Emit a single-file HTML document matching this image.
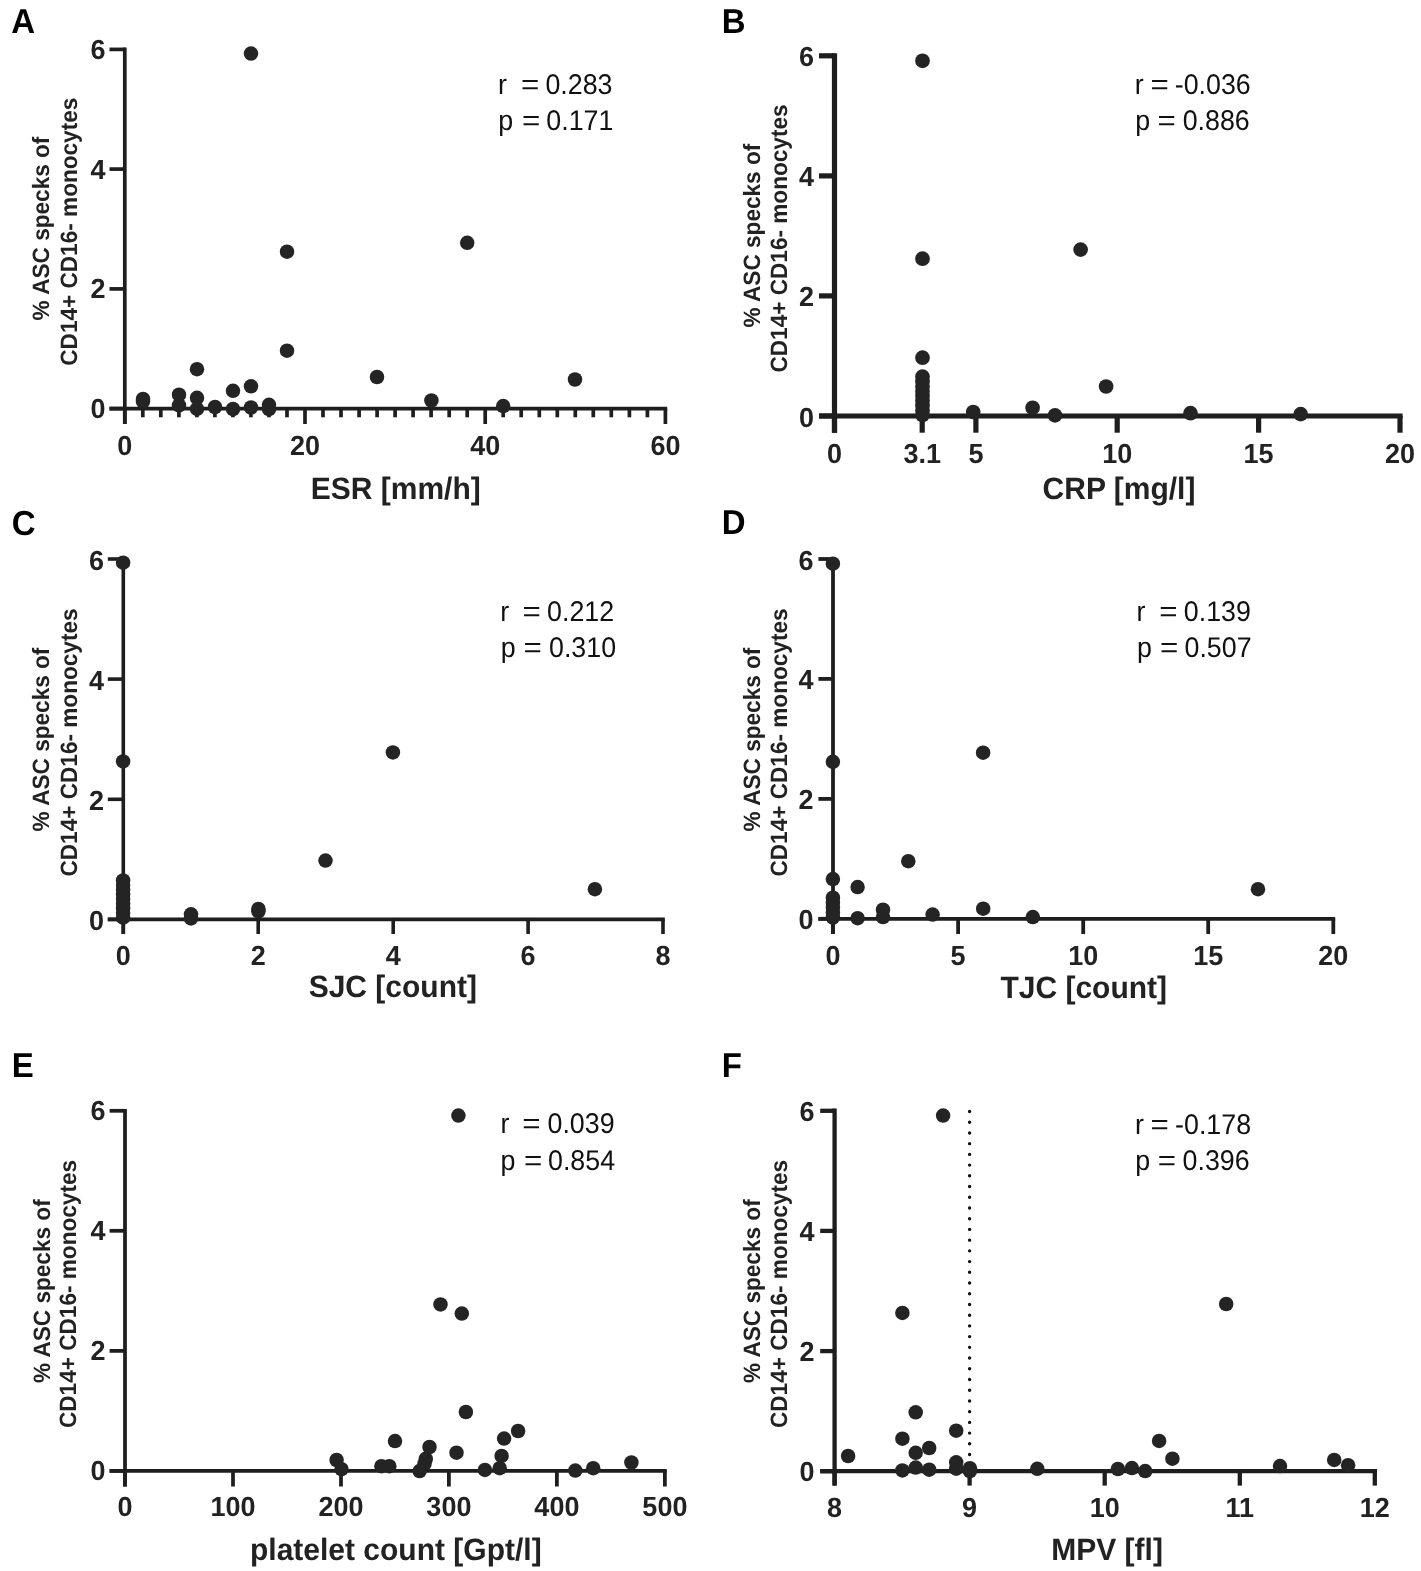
<!DOCTYPE html>
<html><head><meta charset="utf-8"><title>Figure</title>
<style>
html,body{margin:0;padding:0;background:#fff;}
body{width:1421px;height:1571px;overflow:hidden;}
svg{display:block;font-family:"Liberation Sans", sans-serif;text-rendering:geometricPrecision;filter:grayscale(1) blur(0.35px);}
</style></head>
<body>
<svg width="1421" height="1571" viewBox="0 0 1421 1571">
<rect width="1421" height="1571" fill="#fff"/>
<text transform="translate(11.2,33.2) scale(1,1.05)" font-size="33" font-weight="bold" text-anchor="start" fill="#000" >A</text>
<line x1="124.8" y1="47.5" x2="124.8" y2="424.0" stroke="#1e1e1e" stroke-width="3.7" stroke-linecap="butt" />
<line x1="109.5" y1="408.6" x2="667.2" y2="408.6" stroke="#1e1e1e" stroke-width="3.7" stroke-linecap="butt" />
<line x1="109.5" y1="408.6" x2="124.8" y2="408.6" stroke="#1e1e1e" stroke-width="3.7" stroke-linecap="butt" />
<text transform="translate(105.5,418.1) scale(1,1.025)" font-size="27" font-weight="bold" text-anchor="end" fill="#222" >0</text>
<line x1="109.5" y1="288.9" x2="124.8" y2="288.9" stroke="#1e1e1e" stroke-width="3.7" stroke-linecap="butt" />
<text transform="translate(105.5,298.4) scale(1,1.025)" font-size="27" font-weight="bold" text-anchor="end" fill="#222" >2</text>
<line x1="109.5" y1="169.1" x2="124.8" y2="169.1" stroke="#1e1e1e" stroke-width="3.7" stroke-linecap="butt" />
<text transform="translate(105.5,178.6) scale(1,1.025)" font-size="27" font-weight="bold" text-anchor="end" fill="#222" >4</text>
<line x1="109.5" y1="49.4" x2="124.8" y2="49.4" stroke="#1e1e1e" stroke-width="3.7" stroke-linecap="butt" />
<text transform="translate(105.5,58.9) scale(1,1.025)" font-size="27" font-weight="bold" text-anchor="end" fill="#222" >6</text>
<line x1="124.8" y1="408.6" x2="124.8" y2="424.0" stroke="#1e1e1e" stroke-width="3.7" stroke-linecap="butt" />
<line x1="305.0" y1="408.6" x2="305.0" y2="424.0" stroke="#1e1e1e" stroke-width="3.7" stroke-linecap="butt" />
<line x1="485.2" y1="408.6" x2="485.2" y2="424.0" stroke="#1e1e1e" stroke-width="3.7" stroke-linecap="butt" />
<line x1="665.4" y1="408.6" x2="665.4" y2="424.0" stroke="#1e1e1e" stroke-width="3.7" stroke-linecap="butt" />
<line x1="142.8" y1="408.6" x2="142.8" y2="417.3" stroke="#1e1e1e" stroke-width="3.7" stroke-linecap="butt" />
<line x1="160.8" y1="408.6" x2="160.8" y2="417.3" stroke="#1e1e1e" stroke-width="3.7" stroke-linecap="butt" />
<line x1="178.9" y1="408.6" x2="178.9" y2="417.3" stroke="#1e1e1e" stroke-width="3.7" stroke-linecap="butt" />
<line x1="196.9" y1="408.6" x2="196.9" y2="417.3" stroke="#1e1e1e" stroke-width="3.7" stroke-linecap="butt" />
<line x1="214.9" y1="408.6" x2="214.9" y2="417.3" stroke="#1e1e1e" stroke-width="3.7" stroke-linecap="butt" />
<line x1="232.9" y1="408.6" x2="232.9" y2="417.3" stroke="#1e1e1e" stroke-width="3.7" stroke-linecap="butt" />
<line x1="250.9" y1="408.6" x2="250.9" y2="417.3" stroke="#1e1e1e" stroke-width="3.7" stroke-linecap="butt" />
<line x1="269.0" y1="408.6" x2="269.0" y2="417.3" stroke="#1e1e1e" stroke-width="3.7" stroke-linecap="butt" />
<line x1="287.0" y1="408.6" x2="287.0" y2="417.3" stroke="#1e1e1e" stroke-width="3.7" stroke-linecap="butt" />
<line x1="323.0" y1="408.6" x2="323.0" y2="417.3" stroke="#1e1e1e" stroke-width="3.7" stroke-linecap="butt" />
<line x1="341.0" y1="408.6" x2="341.0" y2="417.3" stroke="#1e1e1e" stroke-width="3.7" stroke-linecap="butt" />
<line x1="359.1" y1="408.6" x2="359.1" y2="417.3" stroke="#1e1e1e" stroke-width="3.7" stroke-linecap="butt" />
<line x1="377.1" y1="408.6" x2="377.1" y2="417.3" stroke="#1e1e1e" stroke-width="3.7" stroke-linecap="butt" />
<line x1="395.1" y1="408.6" x2="395.1" y2="417.3" stroke="#1e1e1e" stroke-width="3.7" stroke-linecap="butt" />
<line x1="413.1" y1="408.6" x2="413.1" y2="417.3" stroke="#1e1e1e" stroke-width="3.7" stroke-linecap="butt" />
<line x1="431.1" y1="408.6" x2="431.1" y2="417.3" stroke="#1e1e1e" stroke-width="3.7" stroke-linecap="butt" />
<line x1="449.2" y1="408.6" x2="449.2" y2="417.3" stroke="#1e1e1e" stroke-width="3.7" stroke-linecap="butt" />
<line x1="467.2" y1="408.6" x2="467.2" y2="417.3" stroke="#1e1e1e" stroke-width="3.7" stroke-linecap="butt" />
<line x1="503.2" y1="408.6" x2="503.2" y2="417.3" stroke="#1e1e1e" stroke-width="3.7" stroke-linecap="butt" />
<line x1="521.2" y1="408.6" x2="521.2" y2="417.3" stroke="#1e1e1e" stroke-width="3.7" stroke-linecap="butt" />
<line x1="539.3" y1="408.6" x2="539.3" y2="417.3" stroke="#1e1e1e" stroke-width="3.7" stroke-linecap="butt" />
<line x1="557.3" y1="408.6" x2="557.3" y2="417.3" stroke="#1e1e1e" stroke-width="3.7" stroke-linecap="butt" />
<line x1="575.3" y1="408.6" x2="575.3" y2="417.3" stroke="#1e1e1e" stroke-width="3.7" stroke-linecap="butt" />
<line x1="593.3" y1="408.6" x2="593.3" y2="417.3" stroke="#1e1e1e" stroke-width="3.7" stroke-linecap="butt" />
<line x1="611.3" y1="408.6" x2="611.3" y2="417.3" stroke="#1e1e1e" stroke-width="3.7" stroke-linecap="butt" />
<line x1="629.4" y1="408.6" x2="629.4" y2="417.3" stroke="#1e1e1e" stroke-width="3.7" stroke-linecap="butt" />
<line x1="647.4" y1="408.6" x2="647.4" y2="417.3" stroke="#1e1e1e" stroke-width="3.7" stroke-linecap="butt" />
<text transform="translate(124.8,454.5) scale(1,1.025)" font-size="27" font-weight="bold" text-anchor="middle" fill="#222" >0</text>
<text transform="translate(305.0,454.5) scale(1,1.025)" font-size="27" font-weight="bold" text-anchor="middle" fill="#222" >20</text>
<text transform="translate(485.2,454.5) scale(1,1.025)" font-size="27" font-weight="bold" text-anchor="middle" fill="#222" >40</text>
<text transform="translate(665.4,454.5) scale(1,1.025)" font-size="27" font-weight="bold" text-anchor="middle" fill="#222" >60</text>
<text transform="translate(395.7,498.9) scale(1,1.03)" font-size="30" font-weight="bold" text-anchor="middle" fill="#222" >ESR [mm/h]</text>
<text transform="translate(49.3,228.5) rotate(-90) scale(1,1.045)" font-size="22.6" font-weight="bold" text-anchor="middle" fill="#222">% ASC specks of</text>
<text transform="translate(76.5,231.7) rotate(-90) scale(1,1.045)" font-size="22.6" font-weight="bold" text-anchor="middle" fill="#222">CD14+ CD16- monocytes</text>
<text transform="translate(497.9,93.8) scale(0.94,1)" font-size="28.5" font-weight="normal" fill="#111">r</text>
<text transform="translate(521.1,93.8) scale(1.1,1)" font-size="28.5" font-weight="normal" fill="#111">=</text>
<text transform="translate(545.4,93.8) scale(0.94,1)" font-size="28.5" font-weight="normal" fill="#111">0.283</text>
<text transform="translate(498.3,129.6) scale(0.94,1)" font-size="28.5" font-weight="normal" fill="#111">p</text>
<text transform="translate(521.9,129.6) scale(1.1,1)" font-size="28.5" font-weight="normal" fill="#111">=</text>
<text transform="translate(546.3,129.6) scale(0.94,1)" font-size="28.5" font-weight="normal" fill="#111">0.171</text>
<circle cx="251.0" cy="53.6" r="7.25" fill="#242424"/>
<circle cx="287.0" cy="251.7" r="7.25" fill="#242424"/>
<circle cx="467.2" cy="242.8" r="7.25" fill="#242424"/>
<circle cx="377.0" cy="377.0" r="7.25" fill="#242424"/>
<circle cx="431.4" cy="400.5" r="7.25" fill="#242424"/>
<circle cx="503.2" cy="406.1" r="7.25" fill="#242424"/>
<circle cx="575.0" cy="379.5" r="7.25" fill="#242424"/>
<circle cx="287.0" cy="350.7" r="7.25" fill="#242424"/>
<circle cx="143.0" cy="399.0" r="7.25" fill="#242424"/>
<circle cx="143.0" cy="401.5" r="7.25" fill="#242424"/>
<circle cx="179.0" cy="394.7" r="7.25" fill="#242424"/>
<circle cx="179.0" cy="405.4" r="7.25" fill="#242424"/>
<circle cx="197.0" cy="369.2" r="7.25" fill="#242424"/>
<circle cx="197.0" cy="397.8" r="7.25" fill="#242424"/>
<circle cx="197.0" cy="408.8" r="7.25" fill="#242424"/>
<circle cx="215.0" cy="407.0" r="7.25" fill="#242424"/>
<circle cx="233.0" cy="390.8" r="7.25" fill="#242424"/>
<circle cx="233.0" cy="409.0" r="7.25" fill="#242424"/>
<circle cx="251.0" cy="386.3" r="7.25" fill="#242424"/>
<circle cx="251.0" cy="407.5" r="7.25" fill="#242424"/>
<circle cx="269.0" cy="404.8" r="7.25" fill="#242424"/>
<circle cx="269.0" cy="409.0" r="7.25" fill="#242424"/>
<text transform="translate(721.7,32.9) scale(1,1.05)" font-size="33" font-weight="bold" text-anchor="start" fill="#000" >B</text>
<line x1="834.5" y1="53.2" x2="834.5" y2="432.7" stroke="#1e1e1e" stroke-width="5.2" stroke-linecap="butt" />
<line x1="819.0" y1="416.0" x2="1402.6" y2="416.0" stroke="#1e1e1e" stroke-width="5.2" stroke-linecap="butt" />
<line x1="819.0" y1="416.0" x2="834.5" y2="416.0" stroke="#1e1e1e" stroke-width="5.2" stroke-linecap="butt" />
<text transform="translate(814.0,426.5) scale(1,1.025)" font-size="27" font-weight="bold" text-anchor="end" fill="#222" >0</text>
<line x1="819.0" y1="295.9" x2="834.5" y2="295.9" stroke="#1e1e1e" stroke-width="5.2" stroke-linecap="butt" />
<text transform="translate(814.0,306.4) scale(1,1.025)" font-size="27" font-weight="bold" text-anchor="end" fill="#222" >2</text>
<line x1="819.0" y1="175.9" x2="834.5" y2="175.9" stroke="#1e1e1e" stroke-width="5.2" stroke-linecap="butt" />
<text transform="translate(814.0,186.4) scale(1,1.025)" font-size="27" font-weight="bold" text-anchor="end" fill="#222" >4</text>
<line x1="819.0" y1="55.8" x2="834.5" y2="55.8" stroke="#1e1e1e" stroke-width="5.2" stroke-linecap="butt" />
<text transform="translate(814.0,66.3) scale(1,1.025)" font-size="27" font-weight="bold" text-anchor="end" fill="#222" >6</text>
<line x1="834.5" y1="416.0" x2="834.5" y2="432.7" stroke="#1e1e1e" stroke-width="5.2" stroke-linecap="butt" />
<line x1="922.2" y1="416.0" x2="922.2" y2="432.7" stroke="#1e1e1e" stroke-width="5.2" stroke-linecap="butt" />
<line x1="975.9" y1="416.0" x2="975.9" y2="432.7" stroke="#1e1e1e" stroke-width="5.2" stroke-linecap="butt" />
<line x1="1117.2" y1="416.0" x2="1117.2" y2="432.7" stroke="#1e1e1e" stroke-width="5.2" stroke-linecap="butt" />
<line x1="1258.6" y1="416.0" x2="1258.6" y2="432.7" stroke="#1e1e1e" stroke-width="5.2" stroke-linecap="butt" />
<line x1="1400.0" y1="416.0" x2="1400.0" y2="432.7" stroke="#1e1e1e" stroke-width="5.2" stroke-linecap="butt" />
<text transform="translate(834.5,462.8) scale(1,1.025)" font-size="27" font-weight="bold" text-anchor="middle" fill="#222" >0</text>
<text transform="translate(922.2,462.8) scale(1,1.025)" font-size="27" font-weight="bold" text-anchor="middle" fill="#222" >3.1</text>
<text transform="translate(975.9,462.8) scale(1,1.025)" font-size="27" font-weight="bold" text-anchor="middle" fill="#222" >5</text>
<text transform="translate(1117.2,462.8) scale(1,1.025)" font-size="27" font-weight="bold" text-anchor="middle" fill="#222" >10</text>
<text transform="translate(1258.6,462.8) scale(1,1.025)" font-size="27" font-weight="bold" text-anchor="middle" fill="#222" >15</text>
<text transform="translate(1400.0,462.8) scale(1,1.025)" font-size="27" font-weight="bold" text-anchor="middle" fill="#222" >20</text>
<text transform="translate(1119.0,498.5) scale(1,1.03)" font-size="30" font-weight="bold" text-anchor="middle" fill="#222" >CRP [mg/l]</text>
<text transform="translate(759.6,235.6) rotate(-90) scale(1,1.045)" font-size="22.6" font-weight="bold" text-anchor="middle" fill="#222">% ASC specks of</text>
<text transform="translate(786.9,238.5) rotate(-90) scale(1,1.045)" font-size="22.6" font-weight="bold" text-anchor="middle" fill="#222">CD14+ CD16- monocytes</text>
<text transform="translate(1134.8,93.6) scale(0.94,1)" font-size="28.5" font-weight="normal" fill="#111">r</text>
<text transform="translate(1150.6,93.6) scale(1.1,1)" font-size="28.5" font-weight="normal" fill="#111">=</text>
<text transform="translate(1174.8,93.6) scale(0.94,1)" font-size="28.5" font-weight="normal" fill="#111">-0.036</text>
<text transform="translate(1135.2,129.5) scale(0.94,1)" font-size="28.5" font-weight="normal" fill="#111">p</text>
<text transform="translate(1157.6,129.5) scale(1.1,1)" font-size="28.5" font-weight="normal" fill="#111">=</text>
<text transform="translate(1182.7,129.5) scale(0.94,1)" font-size="28.5" font-weight="normal" fill="#111">0.886</text>
<circle cx="922.5" cy="60.8" r="7.35" fill="#242424"/>
<circle cx="922.5" cy="258.7" r="7.35" fill="#242424"/>
<circle cx="922.5" cy="357.7" r="7.35" fill="#242424"/>
<circle cx="922.5" cy="376.6" r="7.35" fill="#242424"/>
<circle cx="922.5" cy="381.4" r="7.35" fill="#242424"/>
<circle cx="922.5" cy="386.2" r="7.35" fill="#242424"/>
<circle cx="922.5" cy="391.0" r="7.35" fill="#242424"/>
<circle cx="922.5" cy="395.8" r="7.35" fill="#242424"/>
<circle cx="922.5" cy="400.6" r="7.35" fill="#242424"/>
<circle cx="922.5" cy="405.4" r="7.35" fill="#242424"/>
<circle cx="922.5" cy="410.2" r="7.35" fill="#242424"/>
<circle cx="922.5" cy="415.0" r="7.35" fill="#242424"/>
<circle cx="973.2" cy="412.0" r="7.35" fill="#242424"/>
<circle cx="1032.6" cy="407.8" r="7.35" fill="#242424"/>
<circle cx="1055.0" cy="415.4" r="7.35" fill="#242424"/>
<circle cx="1080.6" cy="249.6" r="7.35" fill="#242424"/>
<circle cx="1106.1" cy="386.5" r="7.35" fill="#242424"/>
<circle cx="1190.5" cy="413.2" r="7.35" fill="#242424"/>
<circle cx="1300.7" cy="414.1" r="7.35" fill="#242424"/>
<text transform="translate(11.8,534.7) scale(1,1.05)" font-size="33" font-weight="bold" text-anchor="start" fill="#000" >C</text>
<line x1="123.3" y1="557.2" x2="123.3" y2="934.0" stroke="#1e1e1e" stroke-width="3.6" stroke-linecap="butt" />
<line x1="107.8" y1="919.4" x2="664.8" y2="919.4" stroke="#1e1e1e" stroke-width="3.6" stroke-linecap="butt" />
<line x1="107.8" y1="919.4" x2="123.3" y2="919.4" stroke="#1e1e1e" stroke-width="3.6" stroke-linecap="butt" />
<text transform="translate(104.0,929.9) scale(1,1.025)" font-size="27" font-weight="bold" text-anchor="end" fill="#222" >0</text>
<line x1="107.8" y1="799.3" x2="123.3" y2="799.3" stroke="#1e1e1e" stroke-width="3.6" stroke-linecap="butt" />
<text transform="translate(104.0,809.8) scale(1,1.025)" font-size="27" font-weight="bold" text-anchor="end" fill="#222" >2</text>
<line x1="107.8" y1="679.1" x2="123.3" y2="679.1" stroke="#1e1e1e" stroke-width="3.6" stroke-linecap="butt" />
<text transform="translate(104.0,689.6) scale(1,1.025)" font-size="27" font-weight="bold" text-anchor="end" fill="#222" >4</text>
<line x1="107.8" y1="559.0" x2="123.3" y2="559.0" stroke="#1e1e1e" stroke-width="3.6" stroke-linecap="butt" />
<text transform="translate(104.0,569.5) scale(1,1.025)" font-size="27" font-weight="bold" text-anchor="end" fill="#222" >6</text>
<line x1="123.3" y1="919.4" x2="123.3" y2="934.0" stroke="#1e1e1e" stroke-width="3.6" stroke-linecap="butt" />
<line x1="258.2" y1="919.4" x2="258.2" y2="934.0" stroke="#1e1e1e" stroke-width="3.6" stroke-linecap="butt" />
<line x1="393.2" y1="919.4" x2="393.2" y2="934.0" stroke="#1e1e1e" stroke-width="3.6" stroke-linecap="butt" />
<line x1="528.1" y1="919.4" x2="528.1" y2="934.0" stroke="#1e1e1e" stroke-width="3.6" stroke-linecap="butt" />
<line x1="663.0" y1="919.4" x2="663.0" y2="934.0" stroke="#1e1e1e" stroke-width="3.6" stroke-linecap="butt" />
<text transform="translate(123.3,964.9) scale(1,1.025)" font-size="27" font-weight="bold" text-anchor="middle" fill="#222" >0</text>
<text transform="translate(258.2,964.9) scale(1,1.025)" font-size="27" font-weight="bold" text-anchor="middle" fill="#222" >2</text>
<text transform="translate(393.2,964.9) scale(1,1.025)" font-size="27" font-weight="bold" text-anchor="middle" fill="#222" >4</text>
<text transform="translate(528.1,964.9) scale(1,1.025)" font-size="27" font-weight="bold" text-anchor="middle" fill="#222" >6</text>
<text transform="translate(663.0,964.9) scale(1,1.025)" font-size="27" font-weight="bold" text-anchor="middle" fill="#222" >8</text>
<text transform="translate(392.8,997.4) scale(1,1.03)" font-size="30" font-weight="bold" text-anchor="middle" fill="#222" >SJC [count]</text>
<text transform="translate(49.3,739.5) rotate(-90) scale(1,1.045)" font-size="22.6" font-weight="bold" text-anchor="middle" fill="#222">% ASC specks of</text>
<text transform="translate(76.5,742.5) rotate(-90) scale(1,1.045)" font-size="22.6" font-weight="bold" text-anchor="middle" fill="#222">CD14+ CD16- monocytes</text>
<text transform="translate(500.2,621.3) scale(0.94,1)" font-size="28.5" font-weight="normal" fill="#111">r</text>
<text transform="translate(522.4,621.3) scale(1.1,1)" font-size="28.5" font-weight="normal" fill="#111">=</text>
<text transform="translate(547.1,621.3) scale(0.94,1)" font-size="28.5" font-weight="normal" fill="#111">0.212</text>
<text transform="translate(500.8,657.2) scale(0.94,1)" font-size="28.5" font-weight="normal" fill="#111">p</text>
<text transform="translate(523.5,657.2) scale(1.1,1)" font-size="28.5" font-weight="normal" fill="#111">=</text>
<text transform="translate(549.0,657.2) scale(0.94,1)" font-size="28.5" font-weight="normal" fill="#111">0.310</text>
<circle cx="123.1" cy="562.7" r="7.25" fill="#242424"/>
<circle cx="123.1" cy="761.4" r="7.25" fill="#242424"/>
<circle cx="392.9" cy="752.4" r="7.25" fill="#242424"/>
<circle cx="325.5" cy="860.6" r="7.25" fill="#242424"/>
<circle cx="594.9" cy="889.2" r="7.25" fill="#242424"/>
<circle cx="123.1" cy="880.4" r="7.25" fill="#242424"/>
<circle cx="123.1" cy="885.1" r="7.25" fill="#242424"/>
<circle cx="123.1" cy="889.7" r="7.25" fill="#242424"/>
<circle cx="123.1" cy="894.4" r="7.25" fill="#242424"/>
<circle cx="123.1" cy="899.0" r="7.25" fill="#242424"/>
<circle cx="123.1" cy="903.7" r="7.25" fill="#242424"/>
<circle cx="123.1" cy="908.4" r="7.25" fill="#242424"/>
<circle cx="123.1" cy="913.0" r="7.25" fill="#242424"/>
<circle cx="123.1" cy="917.7" r="7.25" fill="#242424"/>
<circle cx="191.0" cy="914.3" r="7.25" fill="#242424"/>
<circle cx="191.0" cy="918.4" r="7.25" fill="#242424"/>
<circle cx="258.4" cy="908.9" r="7.25" fill="#242424"/>
<circle cx="258.4" cy="911.4" r="7.25" fill="#242424"/>
<text transform="translate(721.7,534.2) scale(1,1.05)" font-size="33" font-weight="bold" text-anchor="start" fill="#000" >D</text>
<line x1="833.0" y1="557.1" x2="833.0" y2="934.0" stroke="#1e1e1e" stroke-width="3.8" stroke-linecap="butt" />
<line x1="818.4" y1="918.8" x2="1335.2" y2="918.8" stroke="#1e1e1e" stroke-width="3.8" stroke-linecap="butt" />
<line x1="818.4" y1="918.8" x2="833.0" y2="918.8" stroke="#1e1e1e" stroke-width="3.8" stroke-linecap="butt" />
<text transform="translate(813.5,929.3) scale(1,1.025)" font-size="27" font-weight="bold" text-anchor="end" fill="#222" >0</text>
<line x1="818.4" y1="798.9" x2="833.0" y2="798.9" stroke="#1e1e1e" stroke-width="3.8" stroke-linecap="butt" />
<text transform="translate(813.5,809.4) scale(1,1.025)" font-size="27" font-weight="bold" text-anchor="end" fill="#222" >2</text>
<line x1="818.4" y1="678.9" x2="833.0" y2="678.9" stroke="#1e1e1e" stroke-width="3.8" stroke-linecap="butt" />
<text transform="translate(813.5,689.4) scale(1,1.025)" font-size="27" font-weight="bold" text-anchor="end" fill="#222" >4</text>
<line x1="818.4" y1="559.0" x2="833.0" y2="559.0" stroke="#1e1e1e" stroke-width="3.8" stroke-linecap="butt" />
<text transform="translate(813.5,569.5) scale(1,1.025)" font-size="27" font-weight="bold" text-anchor="end" fill="#222" >6</text>
<line x1="833.0" y1="918.8" x2="833.0" y2="934.0" stroke="#1e1e1e" stroke-width="3.8" stroke-linecap="butt" />
<line x1="958.1" y1="918.8" x2="958.1" y2="934.0" stroke="#1e1e1e" stroke-width="3.8" stroke-linecap="butt" />
<line x1="1083.2" y1="918.8" x2="1083.2" y2="934.0" stroke="#1e1e1e" stroke-width="3.8" stroke-linecap="butt" />
<line x1="1208.2" y1="918.8" x2="1208.2" y2="934.0" stroke="#1e1e1e" stroke-width="3.8" stroke-linecap="butt" />
<line x1="1333.3" y1="918.8" x2="1333.3" y2="934.0" stroke="#1e1e1e" stroke-width="3.8" stroke-linecap="butt" />
<text transform="translate(833.0,964.9) scale(1,1.025)" font-size="27" font-weight="bold" text-anchor="middle" fill="#222" >0</text>
<text transform="translate(958.1,964.9) scale(1,1.025)" font-size="27" font-weight="bold" text-anchor="middle" fill="#222" >5</text>
<text transform="translate(1083.2,964.9) scale(1,1.025)" font-size="27" font-weight="bold" text-anchor="middle" fill="#222" >10</text>
<text transform="translate(1208.2,964.9) scale(1,1.025)" font-size="27" font-weight="bold" text-anchor="middle" fill="#222" >15</text>
<text transform="translate(1333.3,964.9) scale(1,1.025)" font-size="27" font-weight="bold" text-anchor="middle" fill="#222" >20</text>
<text transform="translate(1083.7,998.0) scale(1,1.03)" font-size="30" font-weight="bold" text-anchor="middle" fill="#222" >TJC [count]</text>
<text transform="translate(759.6,739.5) rotate(-90) scale(1,1.045)" font-size="22.6" font-weight="bold" text-anchor="middle" fill="#222">% ASC specks of</text>
<text transform="translate(786.9,742.5) rotate(-90) scale(1,1.045)" font-size="22.6" font-weight="bold" text-anchor="middle" fill="#222">CD14+ CD16- monocytes</text>
<text transform="translate(1136.6,621.3) scale(0.94,1)" font-size="28.5" font-weight="normal" fill="#111">r</text>
<text transform="translate(1159.3,621.3) scale(1.1,1)" font-size="28.5" font-weight="normal" fill="#111">=</text>
<text transform="translate(1183.8,621.3) scale(0.94,1)" font-size="28.5" font-weight="normal" fill="#111">0.139</text>
<text transform="translate(1136.9,657.2) scale(0.94,1)" font-size="28.5" font-weight="normal" fill="#111">p</text>
<text transform="translate(1159.9,657.2) scale(1.1,1)" font-size="28.5" font-weight="normal" fill="#111">=</text>
<text transform="translate(1184.5,657.2) scale(0.94,1)" font-size="28.5" font-weight="normal" fill="#111">0.507</text>
<circle cx="832.9" cy="563.7" r="7.25" fill="#242424"/>
<circle cx="832.9" cy="761.8" r="7.25" fill="#242424"/>
<circle cx="983.1" cy="752.7" r="7.25" fill="#242424"/>
<circle cx="832.9" cy="879.1" r="7.25" fill="#242424"/>
<circle cx="832.9" cy="897.7" r="7.25" fill="#242424"/>
<circle cx="832.9" cy="902.7" r="7.25" fill="#242424"/>
<circle cx="832.9" cy="907.6" r="7.25" fill="#242424"/>
<circle cx="832.9" cy="912.6" r="7.25" fill="#242424"/>
<circle cx="832.9" cy="917.5" r="7.25" fill="#242424"/>
<circle cx="857.6" cy="887.1" r="7.25" fill="#242424"/>
<circle cx="857.6" cy="918.2" r="7.25" fill="#242424"/>
<circle cx="883.0" cy="909.7" r="7.25" fill="#242424"/>
<circle cx="883.0" cy="917.1" r="7.25" fill="#242424"/>
<circle cx="908.3" cy="861.2" r="7.25" fill="#242424"/>
<circle cx="932.6" cy="914.6" r="7.25" fill="#242424"/>
<circle cx="983.2" cy="908.7" r="7.25" fill="#242424"/>
<circle cx="1032.8" cy="917.1" r="7.25" fill="#242424"/>
<circle cx="1258.0" cy="889.2" r="7.25" fill="#242424"/>
<text transform="translate(11.7,1077.4) scale(1,1.05)" font-size="33" font-weight="bold" text-anchor="start" fill="#000" >E</text>
<line x1="125.0" y1="1108.9" x2="125.0" y2="1486.5" stroke="#1e1e1e" stroke-width="3.75" stroke-linecap="butt" />
<line x1="109.6" y1="1470.9" x2="666.8" y2="1470.9" stroke="#1e1e1e" stroke-width="3.75" stroke-linecap="butt" />
<line x1="109.6" y1="1470.9" x2="125.0" y2="1470.9" stroke="#1e1e1e" stroke-width="3.75" stroke-linecap="butt" />
<text transform="translate(105.5,1480.4) scale(1,1.025)" font-size="27" font-weight="bold" text-anchor="end" fill="#222" >0</text>
<line x1="109.6" y1="1350.9" x2="125.0" y2="1350.9" stroke="#1e1e1e" stroke-width="3.75" stroke-linecap="butt" />
<text transform="translate(105.5,1360.4) scale(1,1.025)" font-size="27" font-weight="bold" text-anchor="end" fill="#222" >2</text>
<line x1="109.6" y1="1230.8" x2="125.0" y2="1230.8" stroke="#1e1e1e" stroke-width="3.75" stroke-linecap="butt" />
<text transform="translate(105.5,1240.3) scale(1,1.025)" font-size="27" font-weight="bold" text-anchor="end" fill="#222" >4</text>
<line x1="109.6" y1="1110.8" x2="125.0" y2="1110.8" stroke="#1e1e1e" stroke-width="3.75" stroke-linecap="butt" />
<text transform="translate(105.5,1120.3) scale(1,1.025)" font-size="27" font-weight="bold" text-anchor="end" fill="#222" >6</text>
<line x1="125.0" y1="1470.9" x2="125.0" y2="1486.5" stroke="#1e1e1e" stroke-width="3.75" stroke-linecap="butt" />
<line x1="233.0" y1="1470.9" x2="233.0" y2="1486.5" stroke="#1e1e1e" stroke-width="3.75" stroke-linecap="butt" />
<line x1="341.0" y1="1470.9" x2="341.0" y2="1486.5" stroke="#1e1e1e" stroke-width="3.75" stroke-linecap="butt" />
<line x1="448.9" y1="1470.9" x2="448.9" y2="1486.5" stroke="#1e1e1e" stroke-width="3.75" stroke-linecap="butt" />
<line x1="556.9" y1="1470.9" x2="556.9" y2="1486.5" stroke="#1e1e1e" stroke-width="3.75" stroke-linecap="butt" />
<line x1="664.9" y1="1470.9" x2="664.9" y2="1486.5" stroke="#1e1e1e" stroke-width="3.75" stroke-linecap="butt" />
<text transform="translate(125.0,1516.3) scale(1,1.025)" font-size="27" font-weight="bold" text-anchor="middle" fill="#222" >0</text>
<text transform="translate(233.0,1516.3) scale(1,1.025)" font-size="27" font-weight="bold" text-anchor="middle" fill="#222" >100</text>
<text transform="translate(341.0,1516.3) scale(1,1.025)" font-size="27" font-weight="bold" text-anchor="middle" fill="#222" >200</text>
<text transform="translate(448.9,1516.3) scale(1,1.025)" font-size="27" font-weight="bold" text-anchor="middle" fill="#222" >300</text>
<text transform="translate(556.9,1516.3) scale(1,1.025)" font-size="27" font-weight="bold" text-anchor="middle" fill="#222" >400</text>
<text transform="translate(664.9,1516.3) scale(1,1.025)" font-size="27" font-weight="bold" text-anchor="middle" fill="#222" >500</text>
<text transform="translate(395.8,1560.2) scale(1,1.03)" font-size="30" font-weight="bold" text-anchor="middle" fill="#222" >platelet count [Gpt/l]</text>
<text transform="translate(49.6,1291.2) rotate(-90) scale(1,1.045)" font-size="22.6" font-weight="bold" text-anchor="middle" fill="#222">% ASC specks of</text>
<text transform="translate(76.2,1294.0) rotate(-90) scale(1,1.045)" font-size="22.6" font-weight="bold" text-anchor="middle" fill="#222">CD14+ CD16- monocytes</text>
<text transform="translate(500.4,1133.3) scale(0.94,1)" font-size="28.5" font-weight="normal" fill="#111">r</text>
<text transform="translate(522.3,1133.3) scale(1.1,1)" font-size="28.5" font-weight="normal" fill="#111">=</text>
<text transform="translate(547.5,1133.3) scale(0.94,1)" font-size="28.5" font-weight="normal" fill="#111">0.039</text>
<text transform="translate(500.5,1169.8) scale(0.94,1)" font-size="28.5" font-weight="normal" fill="#111">p</text>
<text transform="translate(523.9,1169.8) scale(1.1,1)" font-size="28.5" font-weight="normal" fill="#111">=</text>
<text transform="translate(548.0,1169.8) scale(0.94,1)" font-size="28.5" font-weight="normal" fill="#111">0.854</text>
<circle cx="458.4" cy="1115.6" r="7.25" fill="#242424"/>
<circle cx="440.5" cy="1304.4" r="7.25" fill="#242424"/>
<circle cx="461.8" cy="1313.6" r="7.25" fill="#242424"/>
<circle cx="336.6" cy="1460.0" r="7.25" fill="#242424"/>
<circle cx="341.5" cy="1469.2" r="7.25" fill="#242424"/>
<circle cx="381.4" cy="1466.2" r="7.25" fill="#242424"/>
<circle cx="389.3" cy="1466.2" r="7.25" fill="#242424"/>
<circle cx="395.0" cy="1441.1" r="7.25" fill="#242424"/>
<circle cx="429.5" cy="1447.0" r="7.25" fill="#242424"/>
<circle cx="425.8" cy="1458.8" r="7.25" fill="#242424"/>
<circle cx="424.5" cy="1463.7" r="7.25" fill="#242424"/>
<circle cx="419.6" cy="1471.1" r="7.25" fill="#242424"/>
<circle cx="456.5" cy="1452.7" r="7.25" fill="#242424"/>
<circle cx="465.9" cy="1412.0" r="7.25" fill="#242424"/>
<circle cx="484.9" cy="1469.9" r="7.25" fill="#242424"/>
<circle cx="499.7" cy="1468.2" r="7.25" fill="#242424"/>
<circle cx="501.6" cy="1455.9" r="7.25" fill="#242424"/>
<circle cx="504.1" cy="1438.6" r="7.25" fill="#242424"/>
<circle cx="518.1" cy="1431.0" r="7.25" fill="#242424"/>
<circle cx="575.3" cy="1470.6" r="7.25" fill="#242424"/>
<circle cx="593.2" cy="1468.2" r="7.25" fill="#242424"/>
<circle cx="631.4" cy="1462.5" r="7.25" fill="#242424"/>
<line x1="969.6" y1="1111.5" x2="969.6" y2="1471" stroke="#111" stroke-width="3.4" stroke-dasharray="0 10.72" stroke-linecap="round"/>
<text transform="translate(721.7,1076.6) scale(1,1.05)" font-size="33" font-weight="bold" text-anchor="start" fill="#000" >F</text>
<line x1="834.6" y1="1108.6" x2="834.6" y2="1485.6" stroke="#1e1e1e" stroke-width="4.3" stroke-linecap="butt" />
<line x1="820.2" y1="1471.2" x2="1377.0" y2="1471.2" stroke="#1e1e1e" stroke-width="4.3" stroke-linecap="butt" />
<line x1="820.2" y1="1471.2" x2="834.6" y2="1471.2" stroke="#1e1e1e" stroke-width="4.3" stroke-linecap="butt" />
<text transform="translate(814.5,1481.2) scale(1,1.025)" font-size="27" font-weight="bold" text-anchor="end" fill="#222" >0</text>
<line x1="820.2" y1="1351.1" x2="834.6" y2="1351.1" stroke="#1e1e1e" stroke-width="4.3" stroke-linecap="butt" />
<text transform="translate(814.5,1361.1) scale(1,1.025)" font-size="27" font-weight="bold" text-anchor="end" fill="#222" >2</text>
<line x1="820.2" y1="1230.9" x2="834.6" y2="1230.9" stroke="#1e1e1e" stroke-width="4.3" stroke-linecap="butt" />
<text transform="translate(814.5,1240.9) scale(1,1.025)" font-size="27" font-weight="bold" text-anchor="end" fill="#222" >4</text>
<line x1="820.2" y1="1110.8" x2="834.6" y2="1110.8" stroke="#1e1e1e" stroke-width="4.3" stroke-linecap="butt" />
<text transform="translate(814.5,1120.8) scale(1,1.025)" font-size="27" font-weight="bold" text-anchor="end" fill="#222" >6</text>
<line x1="834.6" y1="1471.2" x2="834.6" y2="1485.6" stroke="#1e1e1e" stroke-width="4.3" stroke-linecap="butt" />
<line x1="969.6" y1="1471.2" x2="969.6" y2="1485.6" stroke="#1e1e1e" stroke-width="4.3" stroke-linecap="butt" />
<line x1="1104.7" y1="1471.2" x2="1104.7" y2="1485.6" stroke="#1e1e1e" stroke-width="4.3" stroke-linecap="butt" />
<line x1="1239.8" y1="1471.2" x2="1239.8" y2="1485.6" stroke="#1e1e1e" stroke-width="4.3" stroke-linecap="butt" />
<line x1="1374.8" y1="1471.2" x2="1374.8" y2="1485.6" stroke="#1e1e1e" stroke-width="4.3" stroke-linecap="butt" />
<text transform="translate(834.6,1517.2) scale(1,1.025)" font-size="27" font-weight="bold" text-anchor="middle" fill="#222" >8</text>
<text transform="translate(969.6,1517.2) scale(1,1.025)" font-size="27" font-weight="bold" text-anchor="middle" fill="#222" >9</text>
<text transform="translate(1104.7,1517.2) scale(1,1.025)" font-size="27" font-weight="bold" text-anchor="middle" fill="#222" >10</text>
<text transform="translate(1239.8,1517.2) scale(1,1.025)" font-size="27" font-weight="bold" text-anchor="middle" fill="#222" >11</text>
<text transform="translate(1374.8,1517.2) scale(1,1.025)" font-size="27" font-weight="bold" text-anchor="middle" fill="#222" >12</text>
<text transform="translate(1107.1,1560.0) scale(1,1.03)" font-size="30" font-weight="bold" text-anchor="middle" fill="#222" >MPV [fl]</text>
<text transform="translate(759.6,1291.2) rotate(-90) scale(1,1.045)" font-size="22.6" font-weight="bold" text-anchor="middle" fill="#222">% ASC specks of</text>
<text transform="translate(786.9,1294.0) rotate(-90) scale(1,1.045)" font-size="22.6" font-weight="bold" text-anchor="middle" fill="#222">CD14+ CD16- monocytes</text>
<text transform="translate(1134.9,1133.8) scale(0.94,1)" font-size="28.5" font-weight="normal" fill="#111">r</text>
<text transform="translate(1150.6,1133.8) scale(1.1,1)" font-size="28.5" font-weight="normal" fill="#111">=</text>
<text transform="translate(1175.1,1133.8) scale(0.94,1)" font-size="28.5" font-weight="normal" fill="#111">-0.178</text>
<text transform="translate(1135.2,1169.5) scale(0.94,1)" font-size="28.5" font-weight="normal" fill="#111">p</text>
<text transform="translate(1157.7,1169.5) scale(1.1,1)" font-size="28.5" font-weight="normal" fill="#111">=</text>
<text transform="translate(1182.6,1169.5) scale(0.94,1)" font-size="28.5" font-weight="normal" fill="#111">0.396</text>
<circle cx="943.1" cy="1115.6" r="7.25" fill="#242424"/>
<circle cx="902.4" cy="1312.9" r="7.25" fill="#242424"/>
<circle cx="1226.2" cy="1304.0" r="7.25" fill="#242424"/>
<circle cx="848.1" cy="1456.0" r="7.25" fill="#242424"/>
<circle cx="902.4" cy="1438.7" r="7.25" fill="#242424"/>
<circle cx="915.7" cy="1412.3" r="7.25" fill="#242424"/>
<circle cx="915.7" cy="1452.8" r="7.25" fill="#242424"/>
<circle cx="929.2" cy="1448.0" r="7.25" fill="#242424"/>
<circle cx="902.4" cy="1470.4" r="7.25" fill="#242424"/>
<circle cx="915.7" cy="1467.6" r="7.25" fill="#242424"/>
<circle cx="929.2" cy="1469.7" r="7.25" fill="#242424"/>
<circle cx="956.2" cy="1430.7" r="7.25" fill="#242424"/>
<circle cx="956.2" cy="1462.3" r="7.25" fill="#242424"/>
<circle cx="956.2" cy="1468.7" r="7.25" fill="#242424"/>
<circle cx="969.9" cy="1468.2" r="7.25" fill="#242424"/>
<circle cx="969.9" cy="1471.0" r="7.25" fill="#242424"/>
<circle cx="1037.3" cy="1468.8" r="7.25" fill="#242424"/>
<circle cx="1117.9" cy="1469.0" r="7.25" fill="#242424"/>
<circle cx="1131.9" cy="1468.1" r="7.25" fill="#242424"/>
<circle cx="1145.2" cy="1471.1" r="7.25" fill="#242424"/>
<circle cx="1159.1" cy="1440.9" r="7.25" fill="#242424"/>
<circle cx="1172.4" cy="1458.7" r="7.25" fill="#242424"/>
<circle cx="1280.0" cy="1466.1" r="7.25" fill="#242424"/>
<circle cx="1334.2" cy="1459.9" r="7.25" fill="#242424"/>
<circle cx="1348.1" cy="1465.2" r="7.25" fill="#242424"/>
</svg>
</body></html>
